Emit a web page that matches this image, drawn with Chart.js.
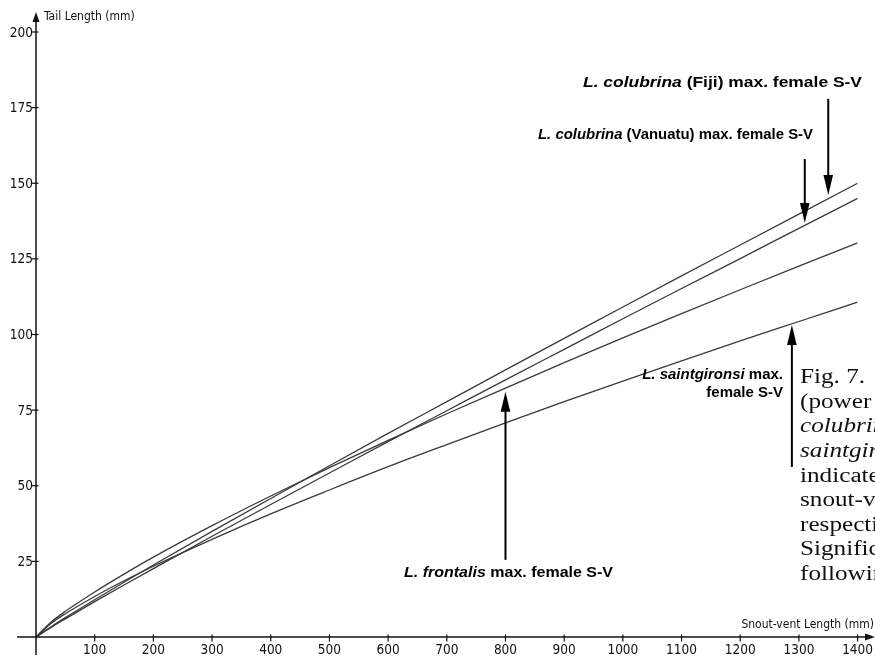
<!DOCTYPE html>
<html>
<head>
<meta charset="utf-8">
<script src="https://cdn.jsdelivr.net/npm/chart.js@4/dist/chart.umd.min.js"></script>
<style>
  html, body { margin: 0; padding: 0; background: #fff; }
  #wrap { width: 875px; height: 657px; position: relative; }
</style>
</head>
<body>
<div id="wrap"><canvas id="chart"></canvas></div>
<script>
// snout-vent length (mm) at which the curves were read
const snoutVent = [0, 25, 50, 100, 150, 200, 300, 400, 500, 600, 700, 800, 900, 1000, 1100, 1200, 1300, 1400];
// tail length (mm)
const fijiTail = [0, 3.3, 6.4, 12.3, 18.1, 23.8, 34.9, 45.8, 56.6, 67.3, 77.8, 88.3, 98.7, 109.1, 119.4, 129.6, 139.8, 150];
const vanuatuTail = [0, 3.1, 6.0, 11.7, 17.2, 22.6, 33.3, 43.8, 54.2, 64.6, 74.8, 85.0, 95.1, 105.2, 115.2, 125.1, 135.1, 145];
const frontalisTail = [0, 4.8, 8.5, 14.9, 20.8, 26.4, 36.8, 46.6, 56.0, 65.0, 73.8, 82.3, 90.7, 98.9, 106.9, 114.8, 122.6, 130.3];
const saintgironsiTail = [0, 4.4, 7.7, 13.4, 18.6, 23.4, 32.3, 40.7, 48.6, 56.3, 63.6, 70.8, 77.8, 84.6, 91.3, 97.9, 104.3, 110.7];

const xTicks = [100, 200, 300, 400, 500, 600, 700, 800, 900, 1000, 1100, 1200, 1300, 1400];
const yTicks = [25, 50, 75, 100, 125, 150, 175, 200];

const INK = '#111';
const TICK_FONT = "13.5px 'Liberation Sans Narrow', 'DejaVu Sans Condensed', 'Liberation Sans', sans-serif";
const LABEL_FONT = "'Liberation Sans', Arial, sans-serif";

function series(values) {
  return values.map((v, i) => ({ x: snoutVent[i], y: v }));
}

function arrow(ctx, x, y1, y2, up) {
  // shaft from y1 to y2, head at y2
  const head = 20, half = 4.8;
  ctx.beginPath();
  ctx.moveTo(x, y1);
  ctx.lineTo(x, up ? y2 + head - 2 : y2 - head + 2);
  ctx.lineWidth = 2;
  ctx.stroke();
  ctx.beginPath();
  ctx.moveTo(x, y2);
  ctx.lineTo(x - half, up ? y2 + head : y2 - head);
  ctx.lineTo(x + half, up ? y2 + head : y2 - head);
  ctx.closePath();
  ctx.fill();
}

// bold label with italic species name; stretched to the span it takes in the figure
function richText(ctx, parts, left, right, y) {
  let total = 0;
  parts.forEach(p => {
    ctx.font = (p.it ? 'italic ' : '') + 'bold 15px ' + LABEL_FONT;
    p.w = ctx.measureText(p.t).width;
    total += p.w;
  });
  if (left == null) left = right - total;
  const sx = right == null ? 1 : (right - left) / total;
  ctx.save();
  ctx.translate(left, y);
  ctx.scale(sx, 1);
  let cx = 0;
  parts.forEach(p => {
    ctx.font = (p.it ? 'italic ' : '') + 'bold 15px ' + LABEL_FONT;
    ctx.fillText(p.t, cx, 0);
    cx += p.w;
  });
  ctx.restore();
}

const axesPlugin = {
  id: 'axes',
  afterDraw(chart) {
    const { ctx, scales: { x, y } } = chart;
    const x0 = x.getPixelForValue(0);
    const y0 = y.getPixelForValue(0);
    ctx.save();
    ctx.strokeStyle = INK;
    ctx.fillStyle = INK;
    ctx.lineWidth = 1.5;
    // x axis
    ctx.beginPath();
    ctx.moveTo(17, y0);
    ctx.lineTo(868, y0);
    ctx.stroke();
    ctx.beginPath();
    ctx.moveTo(875, y0);
    ctx.lineTo(865, y0 - 3.5);
    ctx.lineTo(865, y0 + 3.5);
    ctx.closePath();
    ctx.fill();
    // y axis
    ctx.beginPath();
    ctx.moveTo(x0, 655);
    ctx.lineTo(x0, 20);
    ctx.stroke();
    ctx.beginPath();
    ctx.moveTo(x0, 12);
    ctx.lineTo(x0 - 3.5, 22);
    ctx.lineTo(x0 + 3.5, 22);
    ctx.closePath();
    ctx.fill();

    ctx.lineWidth = 1.2;
    ctx.font = TICK_FONT;
    ctx.textAlign = 'center';
    ctx.textBaseline = 'top';
    xTicks.forEach(v => {
      const px = x.getPixelForValue(v);
      ctx.beginPath();
      ctx.moveTo(px, y0 - 2.5);
      ctx.lineTo(px, y0 + 4.5);
      ctx.stroke();
      ctx.fillText(String(v), px, y0 + 7);
    });
    ctx.textAlign = 'right';
    ctx.textBaseline = 'middle';
    yTicks.forEach(v => {
      const py = y.getPixelForValue(v);
      ctx.beginPath();
      ctx.moveTo(x0 - 4, py);
      ctx.lineTo(x0 + 2.5, py);
      ctx.stroke();
      ctx.fillText(String(v), x0 - 3, py + 1);
    });
    ctx.font = "12px 'Liberation Sans Narrow', 'DejaVu Sans Condensed', 'Liberation Sans', sans-serif";
    ctx.textAlign = 'left';
    ctx.fillText('Tail Length (mm)', x0 + 8, 17);
    ctx.textAlign = 'right';
    ctx.fillText('Snout-vent Length (mm)', 874, y0 - 12);
    ctx.restore();
  }
};

const notesPlugin = {
  id: 'notes',
  afterDraw(chart) {
    const { ctx, scales: { x, y } } = chart;
    ctx.save();
    ctx.fillStyle = '#000';
    ctx.strokeStyle = '#000';
    // arrows, given in data units: x, start value, tip value
    arrow(ctx, x.getPixelForValue(1350), y.getPixelForValue(177.9), y.getPixelForValue(146.1), false);
    arrow(ctx, x.getPixelForValue(1310), y.getPixelForValue(158), y.getPixelForValue(136.9), false);
    arrow(ctx, x.getPixelForValue(1288), y.getPixelForValue(56.2), y.getPixelForValue(103.1), true);
    arrow(ctx, x.getPixelForValue(800), y.getPixelForValue(25.5), y.getPixelForValue(81.1), true);

    ctx.textBaseline = 'middle';
    ctx.textAlign = 'left';
    richText(ctx, [{ t: 'L. colubrina', it: true }, { t: ' (Fiji) max. female S-V' }], 583, 862, 83);
    richText(ctx, [{ t: 'L. colubrina', it: true }, { t: ' (Vanuatu) max. female S-V' }], 538, 813, 135);
    richText(ctx, [{ t: 'L. frontalis', it: true }, { t: ' max. female S-V' }], 404, 613, 573);
    richText(ctx, [{ t: 'L. saintgironsi', it: true }, { t: ' max.' }], null, 783, 375);
    richText(ctx, [{ t: 'female S-V' }], null, 783, 393);

    // caption running off the right edge
    const caption = [
      ['Fig. 7.', false], ['(power curves)', false], ['colubrina', true], ['saintgironsi', true],
      ['indicated', false], ['snout-vent', false], ['respectively.', false], ['Significance', false], ['following', false]
    ];
    ctx.fillStyle = '#111';
    caption.forEach((c, i) => {
      ctx.save();
      ctx.translate(800, 378 + i * 24.6);
      ctx.scale(1.26, 1);
      ctx.font = (c[1] ? 'italic ' : '') + "20px 'Liberation Serif', 'Times New Roman', serif";
      ctx.fillText(c[0], 0, 0);
      ctx.restore();
    });
    ctx.restore();
  }
};

const lineStyle = {
  borderColor: '#3a3a3a',
  borderWidth: 1.3,
  pointRadius: 0,
  fill: false,
  cubicInterpolationMode: 'monotone'
};

new Chart(document.getElementById('chart'), {
  type: 'line',
  data: {
    datasets: [
      { label: 'L. colubrina (Fiji)', data: series(fijiTail), ...lineStyle },
      { label: 'L. colubrina (Vanuatu)', data: series(vanuatuTail), ...lineStyle },
      { label: 'L. frontalis', data: series(frontalisTail), ...lineStyle },
      { label: 'L. saintgironsi', data: series(saintgironsiTail), ...lineStyle }
    ]
  },
  options: {
    responsive: true,
    maintainAspectRatio: false,
    animation: false,
    events: [],
    layout: { padding: { left: 36, right: 17.4, top: 32, bottom: 20 } },
    scales: {
      x: { type: 'linear', min: 0, max: 1400, display: false },
      y: { type: 'linear', min: 0, max: 200, display: false }
    },
    plugins: {
      legend: { display: false },
      tooltip: { enabled: false }
    }
  },
  plugins: [axesPlugin, notesPlugin]
});
</script>
</body>
</html>
